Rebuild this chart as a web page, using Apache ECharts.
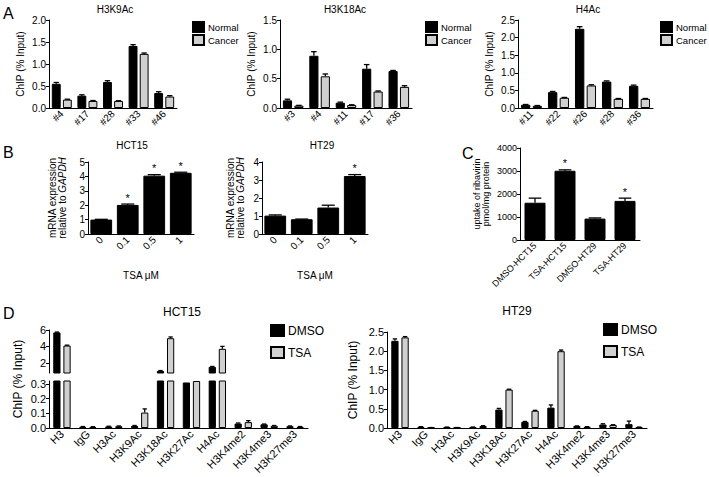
<!DOCTYPE html>
<html><head><meta charset="utf-8">
<script src="https://cdn.jsdelivr.net/npm/echarts@6/dist/echarts.min.js"></script>
<style>html,body{margin:0;padding:0;background:#fff}#c{width:709px;height:477px}</style>
</head><body><div id="c"></div>
<script>
// ---------- Panel A ----------
const aCats1 = ['#4','#17','#28','#33','#46'];
const aNormal1 = [0.55,0.28,0.59,1.41,0.34];
const aNormalErr1 = [0.03,0.02,0.03,0.03,0.03];
const aCancer1 = [0.19,0.16,0.16,1.23,0.26];
const aCancerErr1 = [0.01,0.01,0.005,0.02,0.02];

const aCats2 = ['#3','#4','#11','#17','#36'];
const aNormal2 = [0.13,0.89,0.09,0.67,0.63];
const aNormalErr2 = [0.02,0.07,0.01,0.07,0.01];
const aCancer2 = [0.04,0.54,0.05,0.28,0.36];
const aCancerErr2 = [0.005,0.04,0.005,0.01,0.02];

const aCats3 = ['#11','#22','#26','#28','#36'];
const aNormal3 = [0.09,0.45,2.25,0.75,0.63];
const aNormalErr3 = [0.01,0.02,0.06,0.02,0.02];
const aCancer3 = [0.06,0.29,0.64,0.26,0.26];
const aCancerErr3 = [0.01,0.01,0.02,0.01,0.01];

// ---------- Panel B ----------
const bCats = ['0','0.1','0.5','1'];
const bHCT15 = [1.0,2.02,4.05,4.25];
const bHCT15Err = [0.02,0.06,0.07,0.04];
const bHCT15Sig = [0,1,1,1];
const bHT29 = [1.02,0.82,1.47,3.22];
const bHT29Err = [0.04,0.01,0.13,0.08];
const bHT29Sig = [0,0,0,1];

// ---------- Panel C ----------
const cCats = ['DMSO-HCT15','TSA-HCT15','DMSO-HT29','TSA-HT29'];
const cUptake = [1620,3010,930,1700];
const cUptakeErr = [200,40,30,120];
const cSig = [0,1,0,1];

// ---------- Panel D ----------
const dCats = ['H3','IgG','H3Ac','H3K9Ac','H3K18Ac','H3K27Ac','H4Ac','H3K4me2','H3K4me3','H3K27me3'];
const dHCT15DMSO = [5.7,0.008,0.01,0.014,1.0,0.31,1.5,0.03,0.025,0.012];
const dHCT15DMSOErr = [0.05,0.002,0.002,0.003,0.05,0,0.05,0.004,0.002,0.002];
const dHCT15TSA = [4.1,0.007,0.012,0.105,5.0,0.32,3.7,0.04,0.015,0.008];
const dHCT15TSAErr = [0.05,0.002,0.002,0.025,0.15,0,0.3,0.01,0.002,0.002];
const dHT29DMSO = [2.27,0.03,0.02,0.02,0.48,0.16,0.53,0.05,0.09,0.1];
const dHT29DMSOErr = [0.05,0.005,0.005,0.005,0.03,0.01,0.07,0.005,0.02,0.08];
const dHT29TSA = [2.36,0.01,0.01,0.05,1.0,0.45,2.0,0.03,0.08,0.02];
const dHT29TSAErr = [0.02,0.002,0.002,0.01,0.01,0.01,0.03,0.005,0.005,0.005];

const FF = '"Liberation Sans", Arial, Helvetica, sans-serif';
const GREY = '#d0d0d0';

const grids = [], xAxes = [], yAxes = [], series = [], titles = [], legends = [];

function catAxis(gi, cats, fs, show) {
  return {type:'category', gridIndex:gi, data:cats, show: show !== false,
    axisLine:{lineStyle:{color:'#000', width:1}},
    axisTick:{alignWithLabel:true, length:3, lineStyle:{color:'#000'}},
    axisLabel:{rotate:45, interval:0, fontSize:fs, color:'#000', fontFamily:FF, margin:4}};
}
function valAxis(gi, min, max, interval, fmt, fs, name, nameGap, nameFs, extra) {
  const ax = {type:'value', gridIndex:gi, min, max, interval,
    axisLine:{show:true, lineStyle:{color:'#000', width:1}},
    axisTick:{show:true, length:3, lineStyle:{color:'#000'}},
    axisLabel:{fontSize:fs, color:'#000', fontFamily:FF, margin:3, formatter:fmt},
    splitLine:{show:false},
    name:name || '', nameLocation:'middle', nameGap:nameGap || 0, nameRotate:90,
    nameTextStyle:{fontSize:nameFs || fs, color:'#000', fontFamily:FF, align:'center',
      rich:{i:{fontStyle:'italic', fontSize:nameFs || fs, fontFamily:FF, color:'#000'}}}};
  return Object.assign(ax, extra || {});
}
function barSeries(name, gi, vals, color, catGap, barGap) {
  return {type:'bar', name, xAxisIndex:gi, yAxisIndex:gi, data:vals,
    barCategoryGap:(catGap*100)+'%', barGap:(barGap*100)+'%', clip:true, silent:true,
    itemStyle:{color, borderColor:'#000', borderWidth:1}};
}
function errSeries(gi, vals, errs, sIdx, nS, catGap, barGap, stars, keep) {
  const data = [];
  vals.forEach((v,i) => { if (!keep || keep(v)) data.push([i, v, errs[i], stars ? stars[i] : 0]); });
  return {type:'custom', xAxisIndex:gi, yAxisIndex:gi, z:5, clip:true, silent:true, data,
    renderItem:(params, api) => {
      const i = api.value(0), v = api.value(1), e = api.value(2), s = api.value(3);
      const band = api.size([1,0])[0];
      const w = band*(1-catGap)/(nS + (nS-1)*barGap);
      const off = (sIdx - (nS-1)/2)*w*(1+barGap);
      const top = api.coord([i, v+e]);
      const base = api.coord([i, v]);
      const x = top[0] + off;
      const cw = Math.max(2, w*0.3);
      const ch = [];
      if (e > 0) {
        ch.push({type:'line', shape:{x1:x, y1:base[1], x2:x, y2:top[1]}, style:{stroke:'#000', lineWidth:1.3}});
        ch.push({type:'line', shape:{x1:x-cw, y1:top[1], x2:x+cw, y2:top[1]}, style:{stroke:'#000', lineWidth:1.3}});
      }
      if (s) ch.push({type:'text', x:x, y:top[1]-1, style:{text:'*', align:'center', verticalAlign:'bottom', fontSize:11, fill:'#000', fontFamily:FF}});
      return {type:'group', children:ch};
    }};
}
const f1 = v => v.toFixed(1);
const f0 = v => String(v);

function groupedPanel(gi, grid, cats, xfs, yMin, yMax, yInt, yfmt, yfs, yName, yGap, names, valsArr, errsArr, catGap, barGap) {
  grids[gi] = grid;
  xAxes[gi] = catAxis(gi, cats, xfs);
  yAxes[gi] = valAxis(gi, yMin, yMax, yInt, yfmt, yfs, yName, yGap, yfs);
  const cols = ['#000', GREY];
  names.forEach((n, s) => {
    series.push(barSeries(n, gi, valsArr[s], cols[s], catGap, barGap));
    series.push(errSeries(gi, valsArr[s], errsArr[s], s, names.length, catGap, barGap));
  });
}

// Panel A
groupedPanel(0, {left:49, top:20, width:128, height:88}, aCats1, 10, 0, 2, 0.5, f1, 10, 'ChIP (% Input)', 24,
  ['Normal','Cancer'], [aNormal1, aCancer1], [aNormalErr1, aCancerErr1], 0.22, 0.25);
groupedPanel(1, {left:280, top:20, width:132, height:88}, aCats2, 10, 0, 1.5, 0.5, f1, 10, 'ChIP (% Input)', 24,
  ['Normal','Cancer'], [aNormal2, aCancer2], [aNormalErr2, aCancerErr2], 0.22, 0.25);
groupedPanel(2, {left:518, top:20, width:135, height:88}, aCats3, 10, 0, 2.5, 0.5, f1, 10, 'ChIP (% Input)', 24,
  ['Normal','Cancer'], [aNormal3, aCancer3], [aNormalErr3, aCancerErr3], 0.22, 0.25);

// Panel B & C (single series)
function singlePanel(gi, grid, cats, xfs, yMax, yInt, yfs, yName, yGap, nameFs, xName, vals, errs, sig, gap) {
  grids[gi] = grid;
  const xa = catAxis(gi, cats, xfs);
  if (xName) Object.assign(xa, {name:xName, nameLocation:'middle', nameGap:36, nameTextStyle:{fontSize:10, color:'#000', fontFamily:FF}});
  xAxes[gi] = xa;
  yAxes[gi] = valAxis(gi, 0, yMax, yInt, f0, yfs, yName, yGap, nameFs);
  series.push(barSeries('s'+gi, gi, vals, '#000', gap, 0));
  series.push(errSeries(gi, vals, errs, 0, 1, gap, 0, sig));
}
singlePanel(3, {left:88, top:162, width:106, height:72}, bCats, 10, 5, 1, 10,
  'mRNA expression\nrelative to {i|GAPDH}', 21, 10, 'TSA μM', bHCT15, bHCT15Err, bHCT15Sig, 0.18);
singlePanel(4, {left:262, top:162, width:106, height:72}, bCats, 10, 4, 1, 10,
  'mRNA expression\nrelative to {i|GAPDH}', 17, 10, 'TSA μM', bHT29, bHT29Err, bHT29Sig, 0.18);
singlePanel(5, {left:520, top:148, width:120, height:92}, cCats, 9, 4000, 1000, 9,
  'uptake of ribavirin\npmol/mg protein', 30, 9, null, cUptake, cUptakeErr, cSig, 0.3);

// Panel D1 (broken axis: upper grid 6, lower grid 7)
const upMin = 0.75, lowMax = 0.32;
const dGap = 0.33, dBarGap = 0.4;
grids[6] = {left:49, top:330, width:259, height:43};
grids[7] = {left:49, top:381, width:259, height:47};
xAxes[6] = catAxis(6, dCats, 11, false);
xAxes[7] = catAxis(7, dCats, 11);
yAxes[6] = valAxis(6, upMin, 6, null, f0, 11, '', 0, 11, {
  axisTick:{show:true, length:3, lineStyle:{color:'#000'}, customValues:[2,4,6]},
  axisLabel:{fontSize:11, color:'#000', fontFamily:FF, margin:3, customValues:[2,4,6]}});
yAxes[7] = valAxis(7, 0, lowMax, null, f1, 11, '', 0, 11, {
  axisTick:{show:true, length:3, lineStyle:{color:'#000'}, customValues:[0,0.1,0.2,0.3]},
  axisLabel:{fontSize:11, color:'#000', fontFamily:FF, margin:3, formatter:f1, customValues:[0,0.1,0.2,0.3]}});
[['DMSO', dHCT15DMSO, dHCT15DMSOErr, '#000'], ['TSA', dHCT15TSA, dHCT15TSAErr, GREY]].forEach((d, s) => {
  series.push(barSeries(d[0], 6, d[1], d[3], dGap, dBarGap));
  series.push(barSeries(d[0], 7, d[1], d[3], dGap, dBarGap));
  series.push(errSeries(6, d[1], d[2], s, 2, dGap, dBarGap, null, v => v > upMin));
  series.push(errSeries(7, d[1], d[2], s, 2, dGap, dBarGap, null, v => v < lowMax));
});
// name-only axis spanning D1
grids[9] = {left:49, top:330, width:259, height:98};
xAxes[9] = {type:'category', gridIndex:9, show:false, data:dCats};
yAxes[9] = {type:'value', gridIndex:9, min:0, max:1, axisLine:{show:false}, axisTick:{show:false},
  axisLabel:{show:false}, splitLine:{show:false}, name:'ChIP (% Input)', nameLocation:'middle', nameGap:25,
  nameTextStyle:{fontSize:12, color:'#000', fontFamily:FF}};

// Panel D2
groupedPanel(8, {left:387, top:332, width:260, height:96}, dCats, 11, 0, 2.5, 0.5, f1, 11, 'ChIP (% Input)', 28,
  ['DMSO','TSA'], [dHT29DMSO, dHT29TSA], [dHT29DMSOErr, dHT29TSAErr], dGap, dBarGap);
yAxes[8].nameTextStyle.fontSize = 12;

// Titles
function tt(text, x, y, fs) {
  titles.push({text, left:x, top:y, textAlign:'center', padding:0,
    textStyle:{fontSize:fs, fontWeight:'normal', color:'#000', fontFamily:FF}});
}
function letter(text, x, y) {
  titles.push({text, left:x, top:y, padding:0, textStyle:{fontSize:16, fontWeight:'normal', color:'#000', fontFamily:FF}});
}
letter('A', 3, 5); letter('B', 3, 144); letter('C', 462, 145); letter('D', 3, 305);
tt('H3K9Ac', 115, 4, 10); tt('H3K18Ac', 345, 4, 10); tt('H4Ac', 588, 4, 10);
tt('HCT15', 132, 140, 10); tt('HT29', 322, 140, 10);
tt('HCT15', 182, 306, 12); tt('HT29', 517, 305, 12);

// Legends
function lg(names, x, y, iw, ih, fs, gap) {
  legends.push({data:names, left:x, top:y, orient:'vertical', icon:'rect', itemWidth:iw, itemHeight:ih,
    itemGap:gap, padding:0, selectedMode:false,
    textStyle:{fontSize:fs, color:'#000', fontFamily:FF, lineHeight:ih+1, padding:[0,0,0,-1]}});
}
lg(['Normal','Cancer'], 192, 21, 11, 10, 9.5, 1);
lg(['Normal','Cancer'], 425, 21, 11, 10, 9.5, 1);
lg(['Normal','Cancer'], 660, 21, 11, 10, 9.5, 1);
lg(['DMSO','TSA'], 270, 324, 13, 11, 12, 9);
lg(['DMSO','TSA'], 603, 323, 13, 11, 12, 9);

const chart = echarts.init(document.getElementById('c'), null, {renderer:'svg', width:709, height:477});
chart.setOption({
  animation:false, backgroundColor:'#fff',
  textStyle:{fontFamily:FF},
  title:titles, legend:legends, grid:grids, xAxis:xAxes, yAxis:yAxes, series
});
</script></body></html>
